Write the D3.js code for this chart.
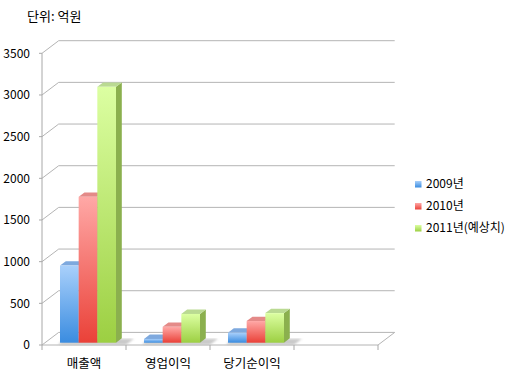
<!DOCTYPE html>
<html><head><meta charset="utf-8">
<script src="https://cdn.jsdelivr.net/npm/d3@7"></script>
<style>
html,body{margin:0;padding:0;background:#fff;}
text{font-family:"Noto Sans CJK KR","Noto Sans",sans-serif;fill:#000;}
</style></head>
<body><svg id="c" width="523" height="377"></svg>
<script>
const categories = ["매출액", "영업이익", "당기순이익"];
const slots = ["매출액", "영업이익", "당기순이익", "_empty"];
const series = ["2009년", "2010년", "2011년(예상치)"];
const values2009 = [925, 45, 120];
const values2010 = [1750, 190, 260];
const values2011 = [3070, 345, 355];
const yTicks = [0, 500, 1000, 1500, 2000, 2500, 3000, 3500];
const unitLabel = "단위: 억원";

const allValues = [values2009, values2010, values2011];
const colors = [
  {top:"#7ea9de", side:"#5c8cc9", f1:"#a9d0fb", f2:"#3a8ce0"},
  {top:"#e48a88", side:"#c65a56", f1:"#ffa8a6", f2:"#ea4138"},
  {top:"#bada92", side:"#8bb04e", f1:"#dcffa2", f2:"#9ccf42"}
];

const svg = d3.select("#c");
const defs = svg.append("defs");
colors.forEach((c,i)=>{
  const g = defs.append("linearGradient").attr("id","gf"+i).attr("x1",0).attr("y1",0).attr("x2",0).attr("y2",1);
  g.append("stop").attr("offset","0%").attr("stop-color",c.f1);
  g.append("stop").attr("offset","100%").attr("stop-color",c.f2);
});
defs.append("filter").attr("id","blur").append("feGaussianBlur").attr("stdDeviation",1.3);

const x0 = d3.scaleBand().domain(slots).range([42, 378]);
const x1 = d3.scaleBand().domain(series).range([14.5, 70.5]);
const y = d3.scaleLinear().domain([0, 3500]).range([345, 53.3]);

const WD = {x:16.7, y:-12.6};   // wall depth
const BO = {x:3.5, y:-2.3};     // bar plane offset
const BD = {x:5.8, y:-4.4};     // bar depth
const backRight = 394.7;

const grid = svg.append("g");
yTicks.forEach(v=>{
  const yy = y(v);
  grid.append("polyline")
    .attr("points", `42,${yy} ${42+WD.x},${yy+WD.y} ${backRight},${yy+WD.y}`)
    .attr("fill","none").attr("stroke","#b4b4b4").attr("stroke-width",1);
  grid.append("line").attr("x1",39).attr("x2",42).attr("y1",yy).attr("y2",yy)
    .attr("stroke","#a8a8a8");
});
// floor front edge
grid.append("polyline")
  .attr("points", `42,345 378,345 ${378+WD.x},${345+WD.y}`)
  .attr("fill","none").attr("stroke","#b4b4b4");
// vertical axis
grid.append("line").attr("x1",42).attr("x2",42).attr("y1",y(3500)).attr("y2",345).attr("stroke","#a8a8a8");
// category ticks
slots.concat(["end"]).forEach((s,i)=>{
  const xx = i < slots.length ? x0(s) : x0.range()[1];
  grid.append("line").attr("x1",xx).attr("x2",xx).attr("y1",345).attr("y2",350).attr("stroke","#a8a8a8");
});

// y tick labels
svg.append("g").selectAll("text").data(yTicks).join("text")
  .attr("x",30).attr("y",d=>y(d)).attr("dy","0.35em")
  .attr("text-anchor","end").attr("font-size",12).text(d=>d);

// title
svg.append("text").attr("x",27).attr("y",21).attr("font-size",13).text(unitLabel);

// shadows
const bars = svg.append("g");
categories.forEach((cat,ci)=>{
  const gx = x0(cat) + x1.range()[0] + BO.x;
  const gw = x1.range()[1] - x1.range()[0];
  const yb = y(0) + BO.y;
  bars.append("polygon")
    .attr("points", `${gx-2},${yb+2} ${gx+gw+10},${yb+2} ${gx+gw+18},${yb-4} ${gx+4},${yb-4}`)
    .attr("fill","#bdbdbd").attr("filter","url(#blur)").attr("opacity",0.8);
});

// bars
categories.forEach((cat,ci)=>{
  series.forEach((s,si)=>{
    const v = allValues[si][ci];
    const c = colors[si];
    const xl = x0(cat) + x1(s) + BO.x;
    const xr = xl + x1.bandwidth();
    const yt = y(v) + BO.y;
    const yb = y(0) + BO.y;
    const g = bars.append("g");
    g.append("polygon")
      .attr("points", `${xr},${yt} ${xr+BD.x},${yt+BD.y} ${xr+BD.x},${yb+BD.y} ${xr},${yb}`)
      .attr("fill", c.side);
    g.append("polygon")
      .attr("points", `${xl},${yt} ${xl+BD.x},${yt+BD.y} ${xr+BD.x},${yt+BD.y} ${xr},${yt}`)
      .attr("fill", c.top);
    g.append("rect").attr("x",xl).attr("y",yt).attr("width",x1.bandwidth()).attr("height",yb-yt)
      .attr("fill", `url(#gf${si})`);
  });
});

// category labels
svg.append("g").selectAll("text").data(categories).join("text")
  .attr("x",d=>x0(d)+x0.bandwidth()/2).attr("y",364).attr("dy","0.35em")
  .attr("text-anchor","middle").attr("font-size",12.5).text(d=>d);

// legend
const leg = svg.append("g");
series.forEach((s,i)=>{
  const cy = 184 + i*22;
  leg.append("rect").attr("x",415).attr("y",cy-3).attr("width",6.5).attr("height",6.5)
    .attr("fill",`url(#gf${i})`);
  leg.append("text").attr("x",426).attr("y",cy).attr("dy","0.35em").attr("font-size",12).text(s);
});
</script>
</body></html>
